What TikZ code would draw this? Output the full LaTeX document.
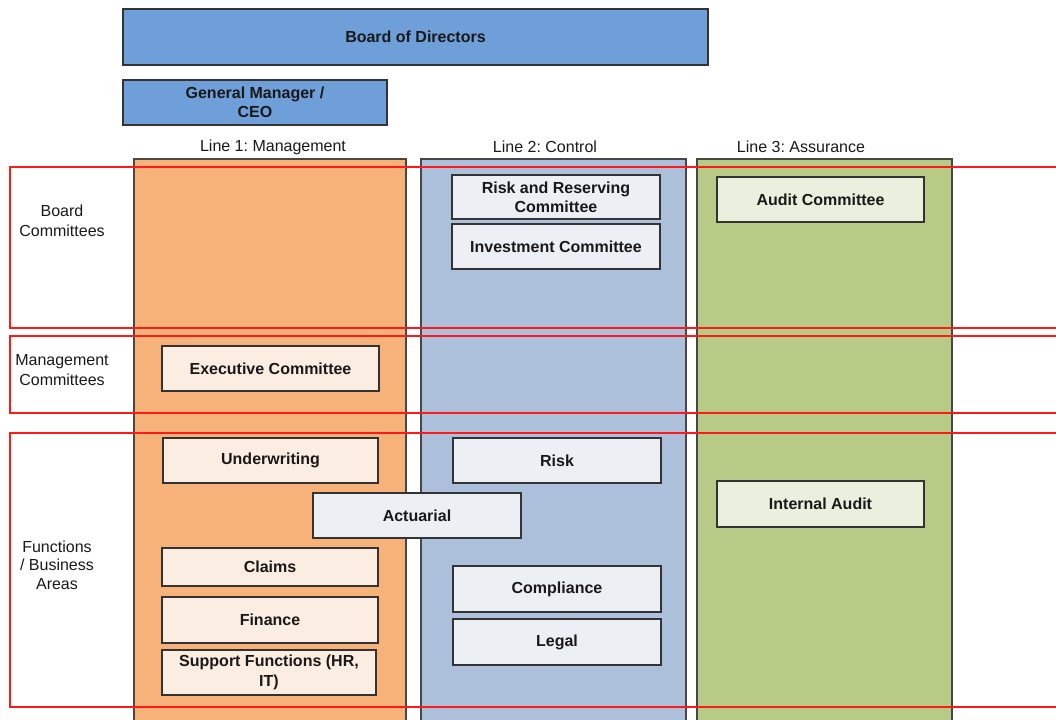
\documentclass[tikz,border=0pt]{standalone}
\usepackage{fontspec}
\setmainfont{Liberation Sans}
\frenchspacing
\definecolor{bodblue}{HTML}{6F9FD9}
\definecolor{colorange}{HTML}{F7B27A}
\definecolor{colblue}{HTML}{ADC0DB}
\definecolor{colgreen}{HTML}{B7CA86}
\definecolor{inorange}{HTML}{FCEDE2}
\definecolor{inblue}{HTML}{ECEFF4}
\definecolor{ingreen}{HTML}{EBF0DE}
\definecolor{edge}{HTML}{333333}
\definecolor{rowred}{HTML}{FF1A1A}
% \placebox{name}{style}{x1}{y1}{x2}{y2}{text}
\newcommand{\placebox}[7]{%
  \node[#2, minimum width={(#5-#3)*0.75pt}, minimum height={(#6-#4)*0.75pt}]
    (#1) at ({(#3+#5)/2},{(#4+#6)/2}) {#7};}
\begin{document}
\begin{tikzpicture}[x=0.75pt,y=-0.75pt,
  colbox/.style={draw=edge!90, line width=0.8pt, inner sep=0pt},
  rowbox/.style={draw=rowred, line width=0.9pt, inner sep=0pt},
  unitbox/.style={draw=edge, line width=1.1pt, inner sep=0pt, align=center,
     font=\bfseries\fontsize{12}{14.5}\selectfont, text=black!90},
  lbl/.style={font=\fontsize{12}{15}\selectfont, align=center, text=black!90}]
\useasboundingbox (0,0) rectangle (1056,719);

% top boxes
\placebox{bod}{unitbox, fill=bodblue}{123}{9}{708}{65}{Board of Directors}
\placebox{ceo}{unitbox, fill=bodblue}{123}{80}{387}{125}{General Manager /\\CEO}

% column headers
\node[lbl] (h1) at (273,147) {Line 1: Management};
\node[lbl] (h2) at (545,147) {Line 2: Control};
\node[lbl] (h3) at (801,147) {Line 3: Assurance};

% columns
\placebox{line1}{colbox, fill=colorange}{134}{159}{406}{740}{}
\placebox{line2}{colbox, fill=colblue}{421}{159}{686}{740}{}
\placebox{line3}{colbox, fill=colgreen}{697}{159}{952}{740}{}

% rows
\placebox{rowboard}{rowbox}{10}{167}{1070}{328}{}
\placebox{rowmgmt}{rowbox}{10}{336}{1070}{413}{}
\placebox{rowfunc}{rowbox}{10}{433}{1070}{707}{}

% row labels
\node[lbl] (lboard) at (62,221) {Board\\Committees};
\node[lbl] (lmgmt) at (62,370) {Management\\Committees};
\node[lbl, font=\fontsize{12}{14}\selectfont] (lfunc) at (57,565) {Functions\\/ Business\\Areas};

% line 1 boxes
\placebox{exec}{unitbox, fill=inorange}{162}{346}{379}{391}{Executive Committee}
\placebox{uw}{unitbox, fill=inorange}{163}{438}{378}{483}{Underwriting}
\placebox{claims}{unitbox, fill=inorange}{162}{548}{378}{586}{Claims}
\placebox{fin}{unitbox, fill=inorange}{162}{597}{378}{643}{Finance}
\placebox{supp}{unitbox, fill=inorange}{162}{650}{376}{695}{Support Functions (HR,\\IT)}

% line 2 boxes
\placebox{rrc}{unitbox, fill=inblue}{452}{175}{660}{219}{Risk and Reserving\\Committee}
\placebox{inv}{unitbox, fill=inblue}{452}{224}{660}{269}{Investment Committee}
\placebox{risk}{unitbox, fill=inblue}{453}{438}{661}{483}{Risk}
\placebox{act}{unitbox, fill=inblue}{313}{493}{521}{538}{Actuarial}
\placebox{comp}{unitbox, fill=inblue}{453}{566}{661}{612}{Compliance}
\placebox{legal}{unitbox, fill=inblue}{453}{619}{661}{665}{Legal}

% line 3 boxes
\placebox{audc}{unitbox, fill=ingreen}{717}{177}{924}{222}{Audit Committee}
\placebox{ia}{unitbox, fill=ingreen}{717}{481}{924}{527}{Internal Audit}
\end{tikzpicture}
\end{document}
